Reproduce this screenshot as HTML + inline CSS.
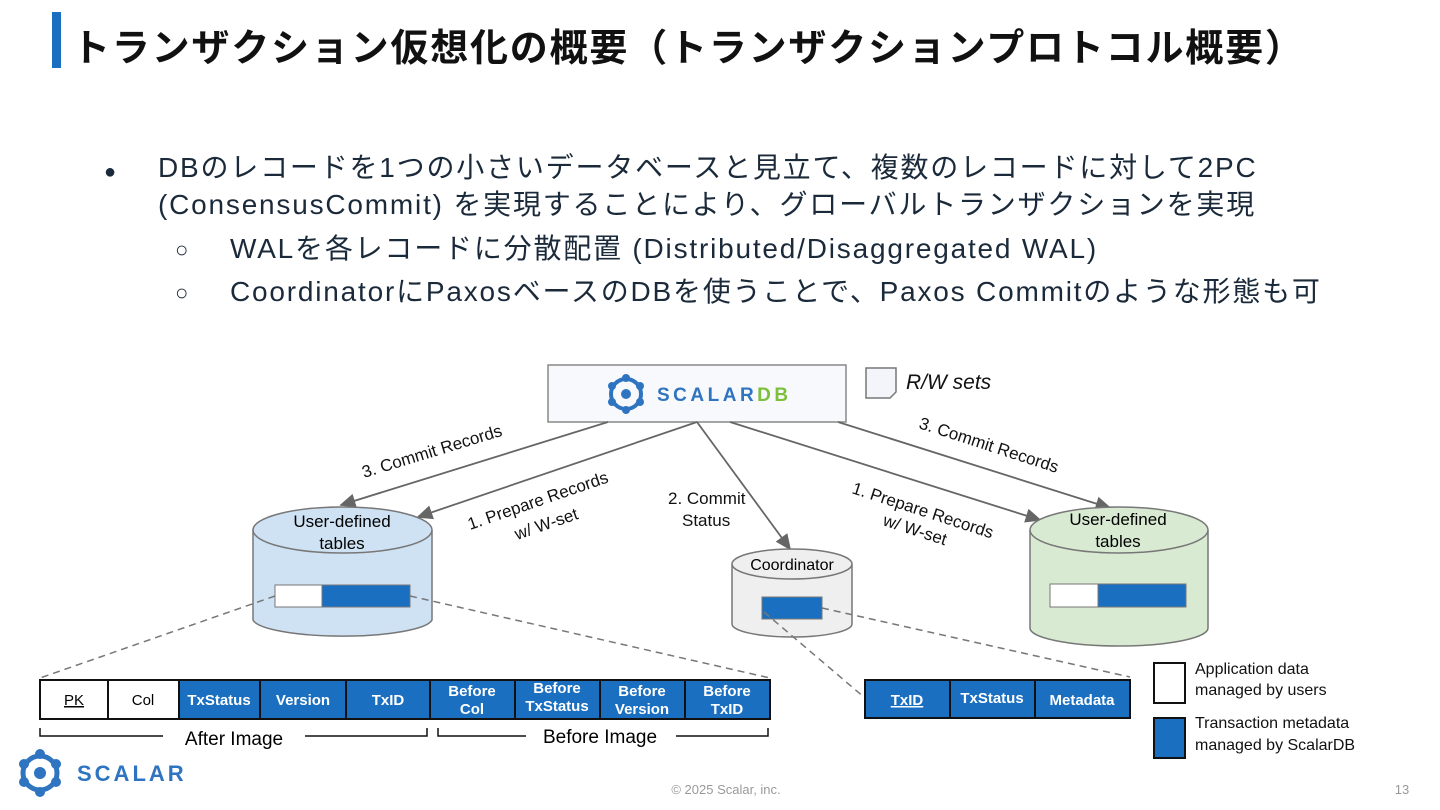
<!DOCTYPE html>
<html><head><meta charset="utf-8"><style>
body{margin:0;width:1440px;height:810px;background:#fff;overflow:hidden;position:relative;font-family:"Liberation Sans","Noto Sans CJK JP",sans-serif;}
.t{position:absolute;white-space:nowrap;}
</style></head><body>
<div style="position:absolute;left:52px;top:12px;width:9px;height:56px;background:#1a6fc0"></div>
<div class="t" style="left:72px;top:17px;font-size:38px;font-weight:bold;color:#111;letter-spacing:1.8px">トランザクション仮想化の概要（トランザクションプロトコル概要）</div>
<div style="position:absolute;left:0;top:150px;font-size:28px;color:#1b2a3a;line-height:36px;letter-spacing:1.8px">
<div class="t" style="left:104px;top:4px;font-size:20px">●</div>
<div class="t" style="left:158px;top:0">DBのレコードを1つの小さいデータベースと見立て、複数のレコードに対して2PC</div>
<div class="t" style="left:158px;top:37px">(ConsensusCommit) を実現することにより、グローバルトランザクションを実現</div>
<div class="t" style="left:175px;top:82px;font-size:22px">○</div>
<div class="t" style="left:230px;top:81px">WALを各レコードに分散配置 (Distributed/Disaggregated WAL)</div>
<div class="t" style="left:175px;top:125px;font-size:22px">○</div>
<div class="t" style="left:230px;top:124px">CoordinatorにPaxosベースのDBを使うことで、Paxos Commitのような形態も可</div>
</div>
<svg width="1440" height="810" style="position:absolute;left:0;top:0" font-family="Liberation Sans, Arial, sans-serif">
<defs><marker id="a" markerWidth="10" markerHeight="10" refX="8" refY="5" orient="auto"><path d="M0,1 L9,5 L0,9 z" fill="#666"/></marker></defs>
<rect x="548" y="365" width="298" height="57" fill="#f8f9fc" stroke="#888" stroke-width="1.5"/>
<g transform="translate(626,394)" fill="#2f74c0">
<circle r="15" fill="none" stroke="#2f74c0" stroke-width="4"/>
<circle cx="0" cy="-16" r="4"/><circle cx="14" cy="-8" r="4"/><circle cx="14" cy="8" r="4"/><circle cx="0" cy="16" r="4"/><circle cx="-14" cy="8" r="4"/><circle cx="-14" cy="-8" r="4"/><circle r="5"/>
</g>
<text x="657" y="401" font-size="19" font-weight="bold" fill="#2f74c0" letter-spacing="3.5">SCALAR<tspan fill="#7cbf3c">DB</tspan></text>
<path d="M866,368 h30 v24 l-6,6 h-24 z" fill="#f3f5fa" stroke="#777" stroke-width="1.5"/>
<text x="906" y="389" font-size="21" font-style="italic" fill="#111">R/W sets</text>
<g stroke="#666" stroke-width="1.8" fill="none" marker-end="url(#a)">
<line x1="608" y1="422" x2="341" y2="505"/>
<line x1="697" y1="422" x2="418" y2="517"/>
<line x1="697" y1="422" x2="790" y2="549"/>
<line x1="730" y1="422" x2="1040" y2="520"/>
<line x1="838" y1="422" x2="1110" y2="508"/>
</g>
<g font-size="17" fill="#111">
<text transform="translate(364,478) rotate(-17)">3. Commit Records</text>
<text transform="translate(470,530) rotate(-19)">1. Prepare Records</text>
<text transform="translate(517,540) rotate(-19)">w/ W-set</text>
<text x="668" y="504">2. Commit</text><text x="682" y="526">Status</text>
<text transform="translate(851,493) rotate(18)">1. Prepare Records</text>
<text transform="translate(882,525) rotate(18)">w/ W-set</text>
<text transform="translate(918,428) rotate(18)">3. Commit Records</text>
</g>
<path d="M253,530 v90 a90,18 0 0 0 179,0 v-90" fill="#cfe2f3" stroke="#777" stroke-width="1.5"/>
<ellipse cx="342.5" cy="530" rx="89.5" ry="23" fill="#cfe2f3" stroke="#777" stroke-width="1.5"/>
<text x="342" y="527" font-size="17" text-anchor="middle">User-defined</text>
<text x="342" y="549" font-size="17" text-anchor="middle">tables</text>
<rect x="275" y="585" width="47" height="22" fill="#fff" stroke="#777"/><rect x="322" y="585" width="88" height="22" fill="#1a6fc0" stroke="#777"/>
<path d="M732,564 v60 a60,13 0 0 0 120,0 v-60" fill="#efefef" stroke="#777" stroke-width="1.5"/>
<ellipse cx="792" cy="564" rx="60" ry="15" fill="#efefef" stroke="#777" stroke-width="1.5"/>
<text x="792" y="570" font-size="16" text-anchor="middle">Coordinator</text>
<rect x="762" y="597" width="60" height="22" fill="#1a6fc0" stroke="#777"/>
<path d="M1030,530 v98 a89,18 0 0 0 178,0 v-98" fill="#d9ead3" stroke="#777" stroke-width="1.5"/>
<ellipse cx="1119" cy="530" rx="89" ry="23" fill="#d9ead3" stroke="#777" stroke-width="1.5"/>
<text x="1118" y="525" font-size="17" text-anchor="middle">User-defined</text>
<text x="1118" y="547" font-size="17" text-anchor="middle">tables</text>
<rect x="1050" y="584" width="48" height="23" fill="#fff" stroke="#777"/><rect x="1098" y="584" width="88" height="23" fill="#1a6fc0" stroke="#777"/>
<g stroke="#777" stroke-width="1.5" stroke-dasharray="7,5" fill="none">
<line x1="275" y1="596" x2="40" y2="678"/><line x1="410" y1="596" x2="770" y2="678"/>
<line x1="822" y1="608" x2="1130" y2="677"/><line x1="764" y1="612" x2="865" y2="698"/>
</g>
<g stroke="#111" stroke-width="2">
<rect x="40" y="680" width="68" height="39" fill="#fff"/><rect x="108" y="680" width="71" height="39" fill="#fff"/>
<rect x="179" y="680" width="81" height="39" fill="#1a6fc0"/><rect x="260" y="680" width="86" height="39" fill="#1a6fc0"/>
<rect x="346" y="680" width="84" height="39" fill="#1a6fc0"/><rect x="430" y="680" width="85" height="39" fill="#1a6fc0"/>
<rect x="515" y="680" width="85" height="39" fill="#1a6fc0"/><rect x="600" y="680" width="85" height="39" fill="#1a6fc0"/>
<rect x="685" y="680" width="85" height="39" fill="#1a6fc0"/>
<rect x="865" y="680" width="85" height="38" fill="#1a6fc0"/><rect x="950" y="680" width="85" height="38" fill="#1a6fc0"/><rect x="1035" y="680" width="95" height="38" fill="#1a6fc0"/>
<rect x="1154" y="663" width="31" height="40" fill="#fff"/><rect x="1154" y="718" width="31" height="40" fill="#1a6fc0"/>
</g>
<g font-size="15" text-anchor="middle">
<text x="74" y="705" text-decoration="underline">PK</text><text x="143" y="705">Col</text>
<g fill="#fff" font-weight="bold">
<text x="219" y="705">TxStatus</text><text x="303" y="705">Version</text><text x="388" y="705">TxID</text>
<text x="472" y="696">Before</text><text x="472" y="714">Col</text>
<text x="557" y="693">Before</text><text x="557" y="711">TxStatus</text>
<text x="642" y="696">Before</text><text x="642" y="714">Version</text>
<text x="727" y="696">Before</text><text x="727" y="714">TxID</text>
<text x="907" y="705" text-decoration="underline">TxID</text><text x="992" y="703">TxStatus</text><text x="1082" y="705">Metadata</text>
</g></g>
<g stroke="#111" stroke-width="1.5" fill="none">
<path d="M40,728 v8 h123"/><path d="M305,736 h122 v-8"/>
<path d="M438,728 v8 h88"/><path d="M676,736 h92 v-8"/>
</g>
<text x="234" y="745" font-size="19" text-anchor="middle">After Image</text>
<text x="600" y="743" font-size="19" text-anchor="middle">Before Image</text>
<g font-size="16" fill="#111"><text x="1195" y="674">Application data</text><text x="1195" y="695">managed by users</text>
<text x="1195" y="728">Transaction metadata</text><text x="1195" y="750">managed by ScalarDB</text></g>
<g transform="translate(40,773)" fill="#2f74c0">
<circle r="17" fill="none" stroke="#2f74c0" stroke-width="5"/>
<circle cx="0" cy="-19" r="5"/><circle cx="16" cy="-9" r="5"/><circle cx="16" cy="9" r="5"/><circle cx="0" cy="19" r="5"/><circle cx="-16" cy="9" r="5"/><circle cx="-16" cy="-9" r="5"/><circle r="6"/>
</g>
<text x="77" y="781" font-size="22" font-weight="bold" fill="#2f74c0" letter-spacing="3">SCALAR</text>
<text x="726" y="794" font-size="13" fill="#999" text-anchor="middle">© 2025 Scalar, inc.</text>
<text x="1402" y="794" font-size="13" fill="#999" text-anchor="middle">13</text>
</svg>
</body></html>
